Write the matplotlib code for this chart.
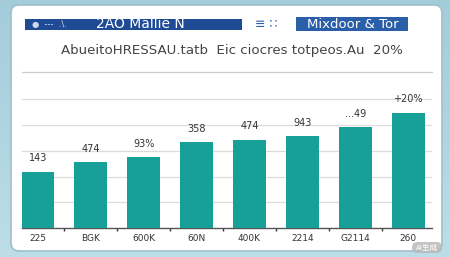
import numpy as np
import matplotlib
matplotlib.use("Agg")
import matplotlib.pyplot as plt
from matplotlib.patches import FancyBboxPatch, Rectangle

plt.rcParams['font.family'] = ['DejaVu Sans', 'Noto Sans CJK SC']

# data
categories = ['225', 'BGK', '600K', '60N', '400K', '2214', 'G2114', '260']
values = [219, 256, 276, 333, 344, 358, 393, 449]
bar_labels = ['143', '474', '93%', '358', '474', '943', '...49', '+20%']
title_left = '2AO Mallie N'
title_right = 'Mixdoor & Tor'
subtitle = 'AbueitoHRESSAU.tatb  Eic ciocres totpeos.Au  20%'

W, H = 450, 257
fig = plt.figure(figsize=(W / 100, H / 100), dpi=100)

# background frame with a soft gradient
bg = fig.add_axes([0, 0, 1, 1])
grad = np.linspace(0, 1, 256).reshape(1, -1)
top = np.array([0.74, 0.87, 0.90])
bot = np.array([0.64, 0.80, 0.86])
img = top[None, None, :] * (1 - grad.T[:, :, None]) + bot[None, None, :] * grad.T[:, :, None]
bg.imshow(img, extent=[0, W, 0, H], aspect='auto')
bg.set_xlim(0, W)
bg.set_ylim(H, 0)
bg.axis('off')

# white panel
bg.add_patch(FancyBboxPatch((11, 5), 431, 246, boxstyle='round,pad=0,rounding_size=8',
                            facecolor='white', edgecolor='#9fbfcc', lw=1.2))

# banners
bg.add_patch(Rectangle((25, 19), 217, 11, facecolor='#1f4a94', edgecolor='none'))
bg.text(96, 24.5, title_left, color='white', fontsize=10, va='center', ha='left')
bg.text(32, 24.5, '\u25cf  ---  .\\.', color='#cfd9ee', fontsize=6, va='center', ha='left')
bg.add_patch(Rectangle((296, 17), 112, 14, facecolor='#2a5ea8', edgecolor='none'))
bg.text(353, 24, title_right, color='white', fontsize=9.5, va='center', ha='center')
bg.text(266, 24, '\u2261 \u2237', color='#2a5ea8', fontsize=9, va='center', ha='center')

# subtitle and separator
bg.text(232, 50.5, subtitle, color='#444444', fontsize=9.6, ha='center', va='center')
bg.plot([22, 432], [72, 72], color='#cccccc', lw=0.9)

# watermark
bg.add_patch(FancyBboxPatch((412, 242), 30, 11, boxstyle='round,pad=0,rounding_size=5.5',
                            facecolor='#b9b9b9', edgecolor='none', alpha=0.85))
bg.text(427, 247.5, 'AI生成', color='white', fontsize=5.5, ha='center', va='center',
        family=['Noto Sans CJK SC', 'DejaVu Sans'])

# bar chart
unit = 25.7
ax = fig.add_axes([22 / W, (H - 228) / H, 410 / W, 5.2 * unit / H])
x = np.arange(len(categories))
ax.bar(x, values, width=0.62, color='#17a097', zorder=3)
ax.set_xlim(-0.30, 7.45)
ax.set_ylim(0, 520)
ax.set_yticks([100, 200, 300, 400, 500])
ax.yaxis.grid(True, color='#dcdcdc', lw=0.9, zorder=0)
ax.tick_params(axis='y', length=0, labelleft=False)
ax.set_xticks(x)
ax.set_xticklabels(categories, fontsize=6.5, color='#333333')
ax.tick_params(axis='x', length=0, pad=4)
ax.set_xticks(x[:-1] + 0.5, minor=True)
ax.tick_params(axis='x', which='minor', length=2.5, width=1, color='#333333')
for s in ['top', 'right', 'left']:
    ax.spines[s].set_visible(False)
ax.spines['bottom'].set_color('#555555')
ax.spines['bottom'].set_linewidth(1)
ax.set_facecolor('none')

for xi, v, lab in zip(x, values, bar_labels):
    ax.annotate(lab, (xi, v), xytext=(0, 6), textcoords='offset points',
                ha='center', va='bottom', fontsize=7, color='#333333')

fig.savefig('out.png', dpi=100)
